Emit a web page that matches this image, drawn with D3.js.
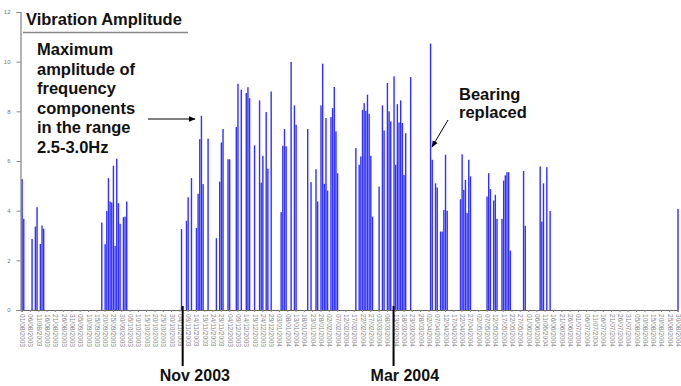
<!DOCTYPE html>
<html>
<head>
<meta charset="utf-8">
<script src="https://cdn.jsdelivr.net/npm/d3@7"></script>
<style>
  html, body { margin: 0; padding: 0; background: #fff; }
  svg { display: block; }
  text { font-family: "Liberation Sans", Arial, sans-serif; }
</style>
</head>
<body>
<svg id="chart" width="681" height="386"></svg>
<script>
// Daily maximum amplitude of the 2.5-3.0 Hz band (days without a reading are omitted)
const readingDates = [
  "01/08/2003","02/08/2003","07/08/2003","09/08/2003","10/08/2003","12/08/2003","13/08/2003","14/08/2003",
  "18/09/2003","20/09/2003","21/09/2003","22/09/2003","23/09/2003","24/09/2003","25/09/2003","26/09/2003",
  "27/09/2003","28/09/2003","29/09/2003","01/10/2003","02/10/2003","03/10/2003",
  "05/11/2003","08/11/2003","09/11/2003","11/11/2003","14/11/2003","15/11/2003","16/11/2003","17/11/2003",
  "18/11/2003","21/11/2003","26/11/2003","28/11/2003","29/11/2003","30/11/2003",
  "03/12/2003","04/12/2003","08/12/2003","09/12/2003","11/12/2003","14/12/2003","15/12/2003","16/12/2003",
  "19/12/2003","22/12/2003","23/12/2003","24/12/2003","26/12/2003","27/12/2003","29/12/2003",
  "04/01/2004","05/01/2004","06/01/2004","07/01/2004","10/01/2004","12/01/2004","13/01/2004","20/01/2004",
  "22/01/2004","25/01/2004","26/01/2004","28/01/2004","29/01/2004","30/01/2004","31/01/2004",
  "01/02/2004","03/02/2004","04/02/2004","05/02/2004","06/02/2004","07/02/2004",
  "18/02/2004","20/02/2004","21/02/2004","22/02/2004","23/02/2004","24/02/2004","25/02/2004","26/02/2004",
  "27/02/2004","28/02/2004",
  "03/03/2004","05/03/2004","06/03/2004","08/03/2004","09/03/2004","10/03/2004","12/03/2004","13/03/2004",
  "14/03/2004","15/03/2004","16/03/2004","17/03/2004","18/03/2004","19/03/2004","22/03/2004",
  "03/04/2004","04/04/2004","06/04/2004","07/04/2004","09/04/2004","10/04/2004","11/04/2004","12/04/2004",
  "13/04/2004","21/04/2004","22/04/2004","23/04/2004","24/04/2004","25/04/2004","26/04/2004","27/04/2004",
  "07/05/2004","08/05/2004","09/05/2004","11/05/2004","12/05/2004","13/05/2004","16/05/2004","17/05/2004",
  "18/05/2004","19/05/2004","20/05/2004","21/05/2004","29/05/2004","30/05/2004",
  "08/06/2004","09/06/2004","10/06/2004","12/06/2004","14/06/2004",
  "30/08/2004"
];
const amplitudes = [
  5.27, 3.67, 2.86, 3.36, 4.14, 2.66, 3.40, 3.27,
  3.52, 2.65, 3.99, 5.31, 4.37, 4.33, 5.81, 2.58,
  6.09, 4.30, 3.47, 3.74, 3.76, 4.37,
  3.26, 3.59, 4.54, 5.31, 3.30, 4.68, 6.88, 7.82,
  5.07, 6.90, 2.89, 5.17, 6.75, 7.29,
  6.07, 6.07, 7.37, 9.11, 8.87, 8.74, 8.97, 8.53,
  6.63, 8.44, 5.13, 6.21, 7.97, 5.69, 8.80,
  3.94, 6.61, 7.29, 6.59, 9.99, 8.24, 7.46, 7.29,
  5.15, 5.67, 4.37, 8.24, 9.92, 5.08, 7.73,
  4.81, 7.77, 8.13, 8.98, 7.19, 5.51,
  6.52, 5.85, 6.18, 8.06, 8.33, 8.02, 8.67, 7.90,
  6.21, 3.76,
  4.97, 8.24, 7.23, 9.14, 8.00, 7.60, 9.41, 5.85,
  8.29, 7.55, 8.44, 7.53, 5.44, 7.12, 9.38,
  10.73, 6.05, 5.10, 4.93, 3.16, 3.16, 4.03, 6.25,
  4.00, 4.46, 6.27, 4.84, 5.24, 3.90, 6.05, 5.38,
  4.57, 5.51, 4.87, 4.41, 4.64, 3.67, 3.67, 5.21,
  5.42, 5.55, 5.55, 2.39, 5.60, 3.39,
  5.78, 3.56, 5.10, 5.75, 3.99,
  4.07
];

// Category labels along the time axis, one every five days
const tickLabels = [
  "01/08/2003","06/08/2003","11/08/2003","16/08/2003","21/08/2003","26/08/2003","31/08/2003",
  "05/09/2003","10/09/2003","15/09/2003","20/09/2003","25/09/2003","30/09/2003",
  "05/10/2003","10/10/2003","15/10/2003","20/10/2003","25/10/2003","30/10/2003",
  "04/11/2003","09/11/2003","14/11/2003","19/11/2003","24/11/2003","29/11/2003",
  "04/12/2003","09/12/2003","14/12/2003","19/12/2003","24/12/2003","29/12/2003",
  "03/01/2004","08/01/2004","13/01/2004","18/01/2004","23/01/2004","28/01/2004",
  "02/02/2004","07/02/2004","12/02/2004","17/02/2004","22/02/2004","27/02/2004",
  "03/03/2004","08/03/2004","13/03/2004","18/03/2004","23/03/2004","28/03/2004",
  "02/04/2004","07/04/2004","12/04/2004","17/04/2004","22/04/2004","27/04/2004",
  "02/05/2004","07/05/2004","12/05/2004","17/05/2004","22/05/2004","27/05/2004",
  "01/06/2004","06/06/2004","11/06/2004","16/06/2004","21/06/2004","26/06/2004",
  "01/07/2004","06/07/2004","11/07/2004","16/07/2004","21/07/2004","26/07/2004","31/07/2004",
  "05/08/2004","10/08/2004","15/08/2004","20/08/2004","25/08/2004","30/08/2004"
];
const yTicks = [0, 2, 4, 6, 8, 10, 12];

// Month markers under the axis
const markerDates = ["06/11/2003", "12/03/2004"];
const markerLabels = ["Nov 2003", "Mar 2004"];

const parse = d3.utcParse("%d/%m/%Y");
const svg = d3.select("#chart");

const x = d3.scaleUtc()
  .domain([parse(tickLabels[0]), parse(tickLabels[tickLabels.length - 1])])
  .range([21.6, 677.5]);
const y = d3.scaleLinear().domain([0, 12]).range([310, 12]);

const readings = readingDates.map((d, i) => ({ date: parse(d), value: amplitudes[i] }));

// Bars
svg.append("g")
  .selectAll("rect")
  .data(readings)
  .join("rect")
  .attr("x", d => x(d.date) - 0.2)
  .attr("width", 1.4)
  .attr("y", d => y(d.value))
  .attr("height", d => y(0) - y(d.value))
  .attr("fill", "#3030ff");

// Value axis
const yAxis = svg.append("g")
  .attr("transform", "translate(20.5,0)")
  .call(d3.axisLeft(y).tickValues(yTicks).tickSize(4).tickPadding(6).tickFormat(d3.format("d")));
yAxis.select(".domain").attr("stroke", "#777").attr("stroke-width", 1.1);
yAxis.selectAll(".tick line").attr("stroke", "#888");
yAxis.selectAll(".tick text").attr("fill", "#777").style("font-size", "6px");

// Time axis with rotated date labels
const xAxis = svg.append("g")
  .attr("transform", "translate(0,310)")
  .call(d3.axisBottom(x)
    .tickValues(tickLabels.map(parse))
    .tickSize(2)
    .tickFormat((d, i) => tickLabels[i]));
xAxis.select(".domain").attr("stroke", "#666").attr("stroke-width", 1.2);
xAxis.selectAll(".tick line").attr("stroke", "#888");
xAxis.selectAll(".tick text")
  .attr("fill", "#888")
  .style("font-size", "6.6px")
  .attr("text-anchor", "start")
  .attr("dy", "0.3em")
  .attr("transform", "translate(0,2) rotate(90)")
  .attr("x", 2)
  .attr("y", 0);

// Month markers
markerDates.forEach((d, i) => {
  const mx = x(parse(d));
  svg.append("line")
    .attr("x1", mx).attr("x2", mx)
    .attr("y1", 306).attr("y2", 366)
    .attr("stroke", "#000").attr("stroke-width", 2);
  svg.append("text")
    .attr("x", mx - 23).attr("y", 381)
    .style("font-size", "16px").style("font-weight", "bold")
    .attr("fill", "#111")
    .text(markerLabels[i]);
});

// Title with rule underneath
svg.append("text")
  .attr("x", 26).attr("y", 25)
  .style("font-size", "16.5px").style("font-weight", "bold")
  .attr("fill", "#111")
  .text("Vibration Amplitude");
svg.append("line")
  .attr("x1", 23).attr("x2", 188)
  .attr("y1", 32.5).attr("y2", 32.5)
  .attr("stroke", "#888").attr("stroke-width", 1.6);

// Band description
const descLines = ["Maximum", "amplitude of", "frequency", "components", "in the range", "2.5-3.0Hz"];
svg.append("text")
  .attr("x", 37).attr("y", 55)
  .style("font-size", "16.5px").style("font-weight", "bold")
  .attr("fill", "#111")
  .selectAll("tspan")
  .data(descLines)
  .join("tspan")
  .attr("x", 37)
  .attr("dy", (d, i) => i === 0 ? 0 : 19.6)
  .text(d => d);

// Arrow markers
svg.append("defs").append("marker")
  .attr("id", "arrowhead")
  .attr("viewBox", "0 0 10 10")
  .attr("refX", 9).attr("refY", 5)
  .attr("markerWidth", 7).attr("markerHeight", 7)
  .attr("orient", "auto")
  .append("path")
  .attr("d", "M0,1 L10,5 L0,9 Z")
  .attr("fill", "#000");

svg.append("line")
  .attr("x1", 148).attr("y1", 119)
  .attr("x2", 195).attr("y2", 119)
  .attr("stroke", "#000").attr("stroke-width", 1)
  .attr("marker-end", "url(#arrowhead)");

const bearingLines = ["Bearing", "replaced"];
svg.append("text")
  .attr("x", 459).attr("y", 100)
  .style("font-size", "16.5px").style("font-weight", "bold")
  .attr("fill", "#111")
  .selectAll("tspan")
  .data(bearingLines)
  .join("tspan")
  .attr("x", 459)
  .attr("dy", (d, i) => i === 0 ? 0 : 18)
  .text(d => d);

svg.append("line")
  .attr("x1", 448).attr("y1", 120)
  .attr("x2", 432).attr("y2", 147)
  .attr("stroke", "#000").attr("stroke-width", 1)
  .attr("marker-end", "url(#arrowhead)");
</script>
</body>
</html>
